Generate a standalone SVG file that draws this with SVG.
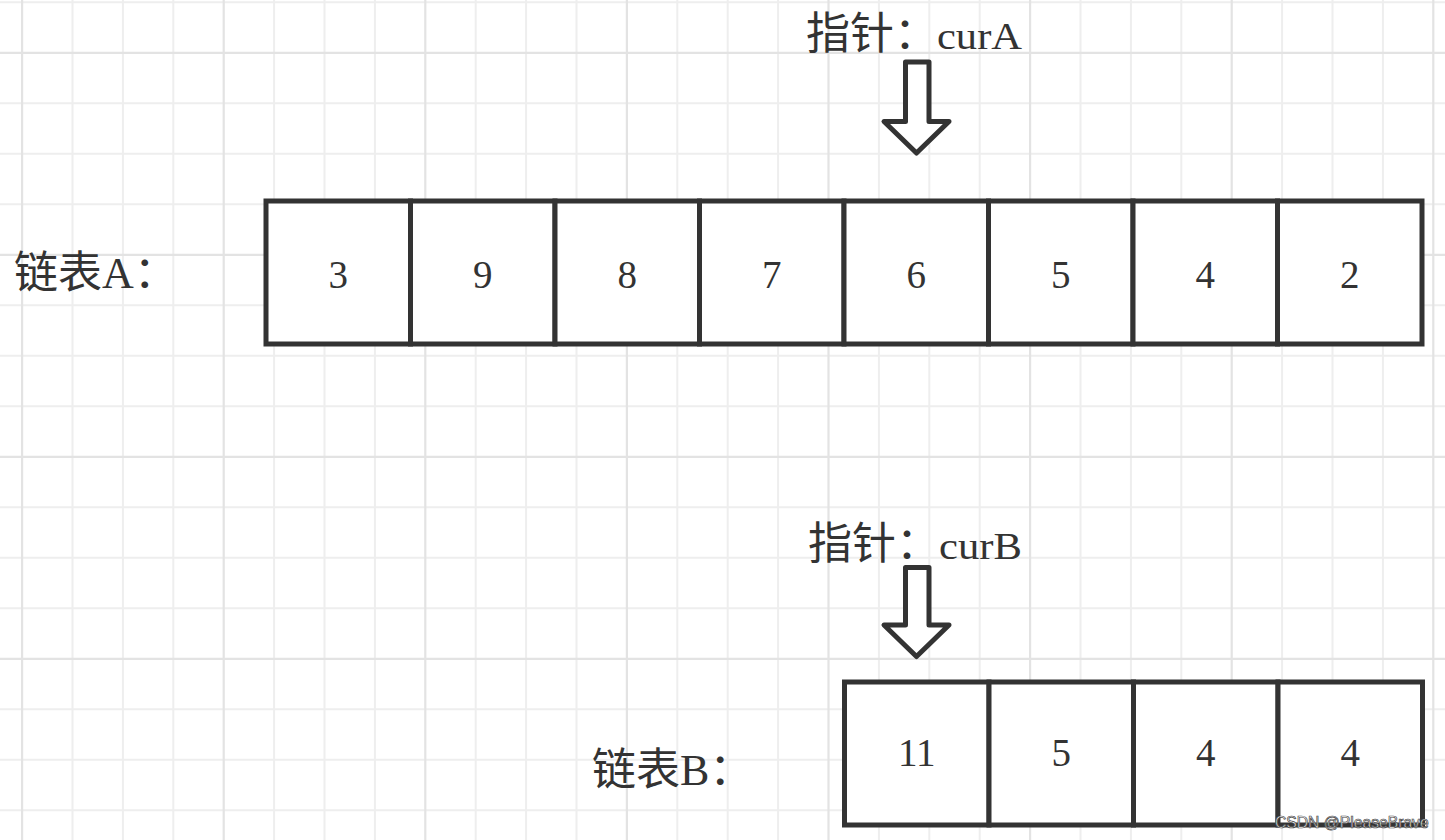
<svg xmlns="http://www.w3.org/2000/svg" width="1445" height="840" viewBox="0 0 1445 840">
<style>
.g1{stroke:#eeeeee;stroke-width:2;fill:none}
.g2{stroke:#e3e3e3;stroke-width:2.2;fill:none}
.cell{fill:#ffffff;stroke:#333333;stroke-width:5}
.num{font-family:"Liberation Serif","Noto Sans CJK SC",serif;font-size:39px;fill:#333333;text-anchor:middle}
.lbl{font-family:"Liberation Serif","Noto Sans CJK SC",serif;font-size:44px;fill:#333333}
.arrow{fill:#ffffff;stroke:#333333;stroke-width:5;stroke-linejoin:round}
.wm{font-family:"Liberation Sans",Arial,sans-serif;font-size:15.7px;fill:#ffffff;stroke:#444444;stroke-width:0.7}
</style>
<rect x="0" y="0" width="1445" height="840" fill="#ffffff"/>
<g id="grid">
<path class="g1" d="M72.5,0V840M122.9,0V840M173.3,0V840M274.1,0V840M324.5,0V840M374.9,0V840M475.7,0V840M526.1,0V840M576.5,0V840M677.3,0V840M727.7,0V840M778.1,0V840M878.9,0V840M929.3,0V840M979.7,0V840M1080.5,0V840M1130.9,0V840M1181.3,0V840M1282.1,0V840M1332.5,0V840M1382.9,0V840M0,2.3H1445M0,103.3H1445M0,153.8H1445M0,204.3H1445M0,305.3H1445M0,355.8H1445M0,406.3H1445M0,507.3H1445M0,557.8H1445M0,608.3H1445M0,709.3H1445M0,759.8H1445M0,810.3H1445"/>
<path class="g2" d="M22.1,0V840M223.7,0V840M425.3,0V840M626.9,0V840M828.5,0V840M1030.1,0V840M1231.7,0V840M1433.3,0V840M0,52.8H1445M0,254.8H1445M0,456.8H1445M0,658.8H1445"/>
</g>
<g id="connectors">
<path id="arrowA" class="arrow" d="M905.5,62 L929,62 L929,121.5 L949,121.5 L916.5,153 L884,121.5 L905.5,121.5 Z"/>
<path id="arrowB" class="arrow" d="M905.5,567.5 L929,567.5 L929,625 L949,625 L916.5,656.5 L884,625 L905.5,625 Z"/>
</g>
<g id="labelA"><text class="lbl" x="14" y="288">链表A：</text></g>
<g id="labelB"><text class="lbl" x="592" y="785">链表B：</text></g>
<g id="pointerA"><text class="lbl" x="806" y="49">指针：<tspan x="937" font-size="37" textLength="85" lengthAdjust="spacingAndGlyphs">curA</tspan></text></g>
<g id="pointerB"><text class="lbl" x="808" y="559">指针：<tspan x="939" font-size="37" textLength="83" lengthAdjust="spacingAndGlyphs">curB</tspan></text></g>
<g id="listA">
<g id="a0"><rect class="cell" x="266" y="201" width="144.5" height="143"/><text class="num" x="338.25" y="288">3</text></g>
<g id="a1"><rect class="cell" x="410.5" y="201" width="144.5" height="143"/><text class="num" x="482.75" y="288">9</text></g>
<g id="a2"><rect class="cell" x="555" y="201" width="144.5" height="143"/><text class="num" x="627.25" y="288">8</text></g>
<g id="a3"><rect class="cell" x="699.5" y="201" width="144.5" height="143"/><text class="num" x="771.75" y="288">7</text></g>
<g id="a4"><rect class="cell" x="844" y="201" width="144.5" height="143"/><text class="num" x="916.25" y="288">6</text></g>
<g id="a5"><rect class="cell" x="988.5" y="201" width="144.5" height="143"/><text class="num" x="1060.75" y="288">5</text></g>
<g id="a6"><rect class="cell" x="1133" y="201" width="144.5" height="143"/><text class="num" x="1205.25" y="288">4</text></g>
<g id="a7"><rect class="cell" x="1277.5" y="201" width="144.5" height="143"/><text class="num" x="1349.75" y="288">2</text></g>
</g>
<g id="listB">
<g id="b0"><rect class="cell" x="844.5" y="682" width="144.5" height="143"/><text class="num" x="916.75" y="766">11</text></g>
<g id="b1"><rect class="cell" x="989" y="682" width="144.5" height="143"/><text class="num" x="1061.25" y="766">5</text></g>
<g id="b2"><rect class="cell" x="1133.5" y="682" width="144.5" height="143"/><text class="num" x="1205.75" y="766">4</text></g>
<g id="b3"><rect class="cell" x="1278" y="682" width="144.5" height="143"/><text class="num" x="1350.25" y="766">4</text></g>
</g>
<g id="watermark"><text class="wm" x="1275" y="828">CSDN @PleaseBrave</text></g>
</svg>
